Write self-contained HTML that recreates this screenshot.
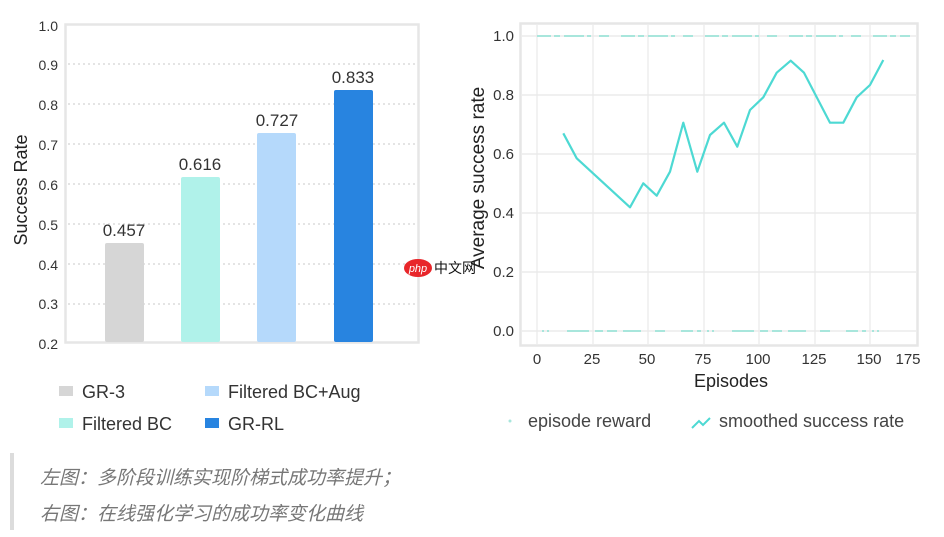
<!DOCTYPE html>
<html><head><meta charset="utf-8"><style>
html,body{margin:0;padding:0;background:#fff;width:944px;height:537px;overflow:hidden}
svg text{font-family:"Liberation Sans","Noto Sans CJK SC",sans-serif}
</style></head><body>
<svg width="944" height="537" viewBox="0 0 944 537" xmlns="http://www.w3.org/2000/svg">
<defs><clipPath id="rc"><rect x="471" y="0" width="473" height="537"/></clipPath></defs>
<!-- LEFT CHART -->
<rect x="65.5" y="24.5" width="353" height="318" fill="none" stroke="#e6e6e6" stroke-width="2.5"/>
<g stroke="#dcdcdc" stroke-width="1.5" stroke-dasharray="2,3">
<line x1="68" y1="64" x2="416" y2="64"/><line x1="68" y1="104" x2="416" y2="104"/>
<line x1="68" y1="144" x2="416" y2="144"/><line x1="68" y1="184" x2="416" y2="184"/>
<line x1="68" y1="224" x2="416" y2="224"/><line x1="68" y1="264" x2="416" y2="264"/>
<line x1="68" y1="304" x2="416" y2="304"/>
</g>
<g font-size="14" fill="#333" text-anchor="end">
<text x="58" y="31">1.0</text><text x="58" y="70">0.9</text><text x="58" y="110">0.8</text>
<text x="58" y="150">0.7</text><text x="58" y="190">0.6</text><text x="58" y="230">0.5</text>
<text x="58" y="270">0.4</text><text x="58" y="309">0.3</text><text x="58" y="349">0.2</text>
</g>
<text transform="translate(27,190) rotate(-90)" font-size="18" fill="#222" text-anchor="middle">Success Rate</text>
<rect x="105" y="243" width="39" height="99" rx="2" fill="#d6d6d6"/>
<rect x="181" y="177" width="39" height="165" rx="2" fill="#b0f2ea"/>
<rect x="257" y="133" width="39" height="209" rx="2" fill="#b5d9fb"/>
<rect x="334" y="90" width="39" height="252" rx="2" fill="#2884e0"/>
<g font-size="17" fill="#333" text-anchor="middle">
<text x="124" y="236">0.457</text><text x="200" y="170">0.616</text>
<text x="277" y="126">0.727</text><text x="353" y="83">0.833</text>
</g>
<rect x="59" y="386" width="14" height="10" fill="#d6d6d6"/>
<text x="82" y="398" font-size="18" fill="#333">GR-3</text>
<rect x="59" y="418" width="14" height="10" fill="#b0f2ea"/>
<text x="82" y="430" font-size="18" fill="#333">Filtered BC</text>
<rect x="205" y="386" width="14" height="10" fill="#b5d9fb"/>
<text x="228" y="398" font-size="18" fill="#333">Filtered BC+Aug</text>
<rect x="205" y="418" width="14" height="10" fill="#2884e0"/>
<text x="228" y="430" font-size="18" fill="#333">GR-RL</text>
<!-- RIGHT CHART -->
<rect x="520.5" y="23.5" width="397" height="322" fill="none" stroke="#e6e6e6" stroke-width="2.5"/>
<g stroke="#e8e8e8" stroke-width="1.2">
<line x1="537" y1="25" x2="537" y2="344"/><line x1="593" y1="25" x2="593" y2="344"/>
<line x1="648" y1="25" x2="648" y2="344"/><line x1="704" y1="25" x2="704" y2="344"/>
<line x1="759" y1="25" x2="759" y2="344"/><line x1="815" y1="25" x2="815" y2="344"/>
<line x1="870" y1="25" x2="870" y2="344"/>
<line x1="522" y1="36" x2="916" y2="36"/><line x1="522" y1="95" x2="916" y2="95"/>
<line x1="522" y1="154" x2="916" y2="154"/><line x1="522" y1="213" x2="916" y2="213"/>
<line x1="522" y1="272" x2="916" y2="272"/><line x1="522" y1="331" x2="916" y2="331"/>
</g>
<g stroke="#a8e6dc" stroke-width="2">
<line x1="537" y1="36" x2="910" y2="36" stroke-dasharray="14,3,6,4,20,3,4,8,10,12"/>
<line x1="542" y1="331" x2="890" y2="331" stroke-dasharray="2,3,2,18,22,6,8,4,10,6,18,14,10,16,12,4,4,6"/>
</g>
<g font-size="15" fill="#333" text-anchor="end">
<text x="514" y="41">1.0</text><text x="514" y="100">0.8</text><text x="514" y="159">0.6</text>
<text x="514" y="218">0.4</text><text x="514" y="277">0.2</text><text x="514" y="336">0.0</text>
</g>
<g font-size="15" fill="#333" text-anchor="middle">
<text x="537" y="364">0</text><text x="592" y="364">25</text><text x="647" y="364">50</text>
<text x="703" y="364">75</text><text x="758" y="364">100</text><text x="814" y="364">125</text>
<text x="869" y="364">150</text><text x="908" y="364">175</text>
</g>
<text x="731" y="387" font-size="18" fill="#222" text-anchor="middle">Episodes</text>
<g clip-path="url(#rc)">
<text transform="translate(484,178) rotate(-90)" font-size="19" fill="#222" text-anchor="middle">Average success rate</text>
</g>
<polyline fill="none" stroke="#4dd9d3" stroke-width="2.2" stroke-linejoin="round" points="563.3,133.3 576.7,158.3 630,207.3 643.3,183.3 656.7,195.7 670,171.7 683.3,122.7 697.3,171.7 710,135 724,122.7 737.3,146.7 750,110 763.3,97.3 776.7,72.7 790.7,60.7 804,72.7 830,122.7 843.3,122.7 856.7,97.3 870,85 883.3,60"/>
<circle cx="510" cy="421" r="1.5" fill="#a8e6dc"/>
<text x="528" y="427" font-size="18" fill="#444">episode reward</text>
<polyline fill="none" stroke="#4dd9d3" stroke-width="2" points="692,428 699,421 703,425 710,418"/>
<text x="719" y="427" font-size="18" fill="#444">smoothed success rate</text>
<!-- watermark -->
<ellipse cx="418" cy="268" rx="14" ry="9" fill="#e8262a"/>
<text x="418" y="272" font-size="11" fill="#fff" text-anchor="middle" font-style="italic">php</text>
<text x="434" y="273" font-size="14" fill="#111">中文网</text>
<!-- CAPTION -->
<rect x="10" y="453" width="4" height="77" fill="#dcdcdc"/>
<text x="40" y="484" font-size="19" fill="#777" font-style="italic">左图：多阶段训练实现阶梯式成功率提升；</text>
<text x="40" y="520" font-size="19" fill="#777" font-style="italic">右图：在线强化学习的成功率变化曲线</text>
</svg>
</body></html>
